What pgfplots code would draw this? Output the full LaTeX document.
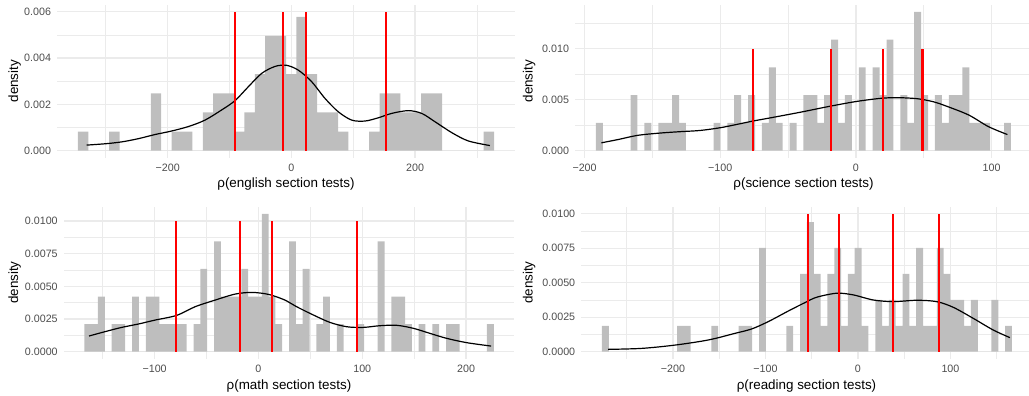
\documentclass[border=0pt]{standalone}
\usepackage{fontspec}
\setmainfont{Liberation Sans}
\usepackage{pgfplots}
\pgfplotsset{compat=1.18}
\definecolor{barc}{HTML}{BEBEBE}
\definecolor{gridc}{HTML}{EBEBEB}
\definecolor{tickc}{HTML}{4D4D4D}
\newcommand{\tickfont}{\fontsize{10.7}{12}\selectfont}
\newcommand{\titlefont}{\fontsize{13.4}{15}\selectfont}
\pgfplotsset{
 panel/.style={
  scale only axis, clip=true,
  axis line style={draw=none},
  major tick length=0pt, minor tick length=0pt,
  grid=both,
  major grid style={line width=1.3pt, draw=gridc},
  minor grid style={line width=0.65pt, draw=gridc},
  scaled ticks=false,
  tick label style={font=\tickfont, text=tickc},
  yticklabel style={anchor=east, inner sep=0pt, xshift=-6pt},
  xticklabel style={anchor=north, inner sep=0pt, yshift=-6pt},
 },
 bars/.style={const plot, fill=barc, draw=none},
 dens/.style={smooth, black, line width=1.2pt},
 seg/.style={red, line width=1.9pt},
}
\begin{document}
\begin{tikzpicture}
\useasboundingbox (0pt,0pt) rectangle (1029pt,396pt);
% ---------------- english ----------------
\begin{axis}[panel, at={(57.2pt,238.4pt)}, anchor=south west,
 width=457.6pt, height=152.7pt,
 xmin=-378.6, xmax=361.2, ymin=-0.0003, ymax=0.0063,
 xtick={-200,0,200}, xticklabels={−200,0,200},
 minor xtick={-300,-100,100,300},
 ytick={0,0.002,0.004,0.006}, yticklabels={0.000,0.002,0.004,0.006},
 minor ytick={0.001,0.003,0.005}]
\addplot[bars] coordinates {(-345.0,0.000826) (-328.2,0) (-311.4,0) (-294.6,0.000826) (-277.7,0) (-260.9,0) (-244.1,0) (-227.3,0.002478) (-210.5,0) (-193.7,0.000826) (-176.9,0.000826) (-160.0,0) (-143.2,0.001652) (-126.4,0.002478) (-109.6,0.002478) (-92.8,0.000826) (-76.0,0.001652) (-59.1,0.003304) (-42.3,0.004956) (-25.5,0.004956) (-8.7,0.003304) (8.1,0.005782) (24.9,0.003304) (41.7,0.001652) (58.6,0.001652) (75.4,0.000826) (92.2,0) (109.0,0) (125.8,0.000826) (142.6,0.002478) (159.5,0.002478) (176.3,0.001652) (193.1,0.001652) (209.9,0.002478) (226.7,0.002478) (243.5,0) (260.3,0) (277.2,0) (294.0,0) (310.8,0.000826) (327.6,0)} \closedcycle;
\addplot[dens] coordinates {(-331,0.00024) (-300,0.0003) (-274,0.00038) (-247,0.00052) (-220,0.0007) (-195,0.00084) (-166.7,0.00104) (-139.7,0.00132) (-112.7,0.00176) (-91.2,0.00216) (-69.7,0.00276) (-48,0.00334) (-26.5,0.00364) (-8,0.00369) (11.2,0.00348) (32.8,0.00298) (54.3,0.00226) (75.8,0.00168) (97.5,0.00132) (119,0.00128) (140.5,0.00142) (162.1,0.00161) (189,0.00173) (210.7,0.00161) (232.2,0.00125) (259.2,0.00078) (286,0.00042) (321,0.00022)};
\addplot[seg] coordinates {(-90.7,0) (-90.7,0.006)};
\addplot[seg] coordinates {(-13.6,0) (-13.6,0.006)};
\addplot[seg] coordinates {(22.9,0) (22.9,0.006)};
\addplot[seg] coordinates {(24.3,0) (24.3,0.006)};
\addplot[seg] coordinates {(152.5,0) (152.5,0.006)};
\end{axis}
% ---------------- science ----------------
\begin{axis}[panel, at={(575.2pt,238.4pt)}, anchor=south west,
 width=456.5pt, height=152.7pt,
 xmin=-206.9, xmax=129.5, ymin=-0.00068, ymax=0.0143,
 xtick={-200,-100,0,100}, xticklabels={−200,−100,0,100},
 minor xtick={-150,-50,50},
 ytick={0,0.005,0.01}, yticklabels={0.000,0.005,0.010},
 minor ytick={0.0025,0.0075,0.0125}]
\addplot[bars] coordinates {(-191.6,0.002725) (-186.5,0) (-181.4,0) (-176.3,0) (-171.2,0) (-166.1,0.00545) (-161.0,0) (-155.9,0.002725) (-150.8,0) (-145.7,0.002725) (-140.6,0.002725) (-135.5,0.00545) (-130.4,0.002725) (-125.3,0) (-120.2,0) (-115.1,0) (-110.0,0) (-104.9,0.002725) (-99.9,0) (-94.8,0.002725) (-89.7,0.00545) (-84.6,0.002725) (-79.5,0.00545) (-74.4,0) (-69.3,0.002725) (-64.2,0.008175) (-59.1,0.002725) (-54.0,0) (-48.9,0.002725) (-43.8,0) (-38.7,0.00545) (-33.6,0.00545) (-28.5,0.002725) (-23.4,0.00545) (-18.3,0.0109) (-13.2,0.002725) (-8.1,0.00545) (-3.0,0) (2.1,0.008175) (7.2,0) (12.3,0.008175) (17.4,0.00545) (22.5,0.0109) (27.6,0) (32.7,0.00545) (37.8,0.002725) (42.9,0.013625) (48.0,0.00545) (53.1,0) (58.2,0.00545) (63.3,0.002725) (68.4,0.00545) (73.4,0.00545) (78.5,0.008175) (83.6,0.002725) (88.7,0.002725) (93.8,0.002725) (98.9,0) (104.0,0) (109.1,0.002725) (114.2,0)} \closedcycle;
\addplot[dens] coordinates {(-187.6,0.00077) (-175,0.0011) (-161,0.0015) (-145,0.00172) (-130,0.00186) (-115,0.00198) (-100,0.00225) (-87.6,0.00258) (-75.3,0.00292) (-63,0.00322) (-41,0.00377) (-20.2,0.00433) (0,0.00482) (18,0.00513) (30,0.0052) (45,0.0051) (57,0.0048) (66,0.0044) (82.9,0.00351) (97.6,0.00236) (111.6,0.00158)};
\addplot[seg] coordinates {(-75.8,0) (-75.8,0.01)};
\addplot[seg] coordinates {(-18.2,0) (-18.2,0.01)};
\addplot[seg] coordinates {(19.9,0) (19.9,0.01)};
\addplot[seg] coordinates {(48.6,0) (48.6,0.01)};
\addplot[seg] coordinates {(49.4,0) (49.4,0.01)};
\end{axis}
% ---------------- math ----------------
\begin{axis}[panel, at={(63.9pt,37.4pt)}, anchor=south west,
 width=450.3pt, height=151.7pt,
 xmin=-187.4, xmax=246.4, ymin=-0.00053, ymax=0.01109,
 xtick={-100,0,100,200}, xticklabels={−100,0,100,200},
 minor xtick={-150,-50,50,150},
 ytick={0,0.0025,0.005,0.0075,0.01}, yticklabels={0.0000,0.0025,0.0050,0.0075,0.0100},
 minor ytick={0.00125,0.00375,0.00625,0.00875}]
\addplot[bars] coordinates {(-167.7,0.002113) (-161.1,0.002113) (-154.6,0.004226) (-148.0,0) (-141.4,0.002113) (-134.8,0.002113) (-128.3,0) (-121.7,0.004226) (-115.1,0) (-108.5,0.004226) (-102.0,0.004226) (-95.4,0.002113) (-88.8,0.002113) (-82.3,0.002113) (-75.7,0.002113) (-69.1,0) (-62.5,0.002113) (-56.0,0.006339) (-49.4,0) (-42.8,0.008452) (-36.2,0.004226) (-29.7,0.004226) (-23.1,0.004226) (-16.5,0.006339) (-10.0,0.004226) (-3.4,0.004226) (3.2,0.010565) (9.8,0.004226) (16.3,0.002113) (22.9,0) (29.5,0.008452) (36.1,0.002113) (42.6,0.006339) (49.2,0) (55.8,0.002113) (62.4,0.004226) (68.9,0) (75.5,0.002113) (82.1,0) (88.6,0) (95.2,0.002113) (101.8,0) (108.4,0) (114.9,0.008452) (121.5,0) (128.1,0.004226) (134.7,0.004226) (141.2,0.002113) (147.8,0) (154.4,0.002113) (160.9,0) (167.5,0.002113) (174.1,0) (180.7,0.002113) (187.2,0.002113) (193.8,0) (200.4,0) (207.0,0) (213.5,0) (220.1,0.002113) (226.7,0)} \closedcycle;
\addplot[dens] coordinates {(-163.2,0.0012) (-147,0.00155) (-131.7,0.00186) (-115,0.00213) (-99.6,0.00242) (-78.7,0.00278) (-61.1,0.00344) (-41.8,0.00395) (-22.5,0.00441) (-6.5,0.00454) (9.6,0.00439) (25,0.00397) (36.9,0.00344) (52.9,0.00281) (69,0.00224) (85.1,0.00191) (101.1,0.00186) (117.1,0.00199) (133.2,0.00202) (149.2,0.00179) (165.3,0.0014) (181.4,0.00102) (200.7,0.00069) (224.1,0.00043)};
\addplot[seg] coordinates {(-79.1,0) (-79.1,0.01)};
\addplot[seg] coordinates {(-17.7,0) (-17.7,0.01)};
\addplot[seg] coordinates {(13.1,0) (13.1,0.01)};
\addplot[seg] coordinates {(95.0,0) (95.0,0.01)};
\end{axis}
% ---------------- reading ----------------
\begin{axis}[panel, at={(581.4pt,37.4pt)}, anchor=south west,
 width=451.1pt, height=151.7pt,
 xmin=-299, xmax=188.7, ymin=-0.0005, ymax=0.0105,
 xtick={-200,-100,0,100}, xticklabels={−200,−100,0,100},
 minor xtick={-250,-150,-50,50,150},
 ytick={0,0.0025,0.005,0.0075,0.01}, yticklabels={0.0000,0.0025,0.0050,0.0075,0.0100},
 minor ytick={0.00125,0.00375,0.00625,0.00875}]
\addplot[bars] coordinates {(-276.8,0.00188) (-269.4,0) (-262.0,0) (-254.6,0) (-247.3,0) (-239.9,0) (-232.5,0) (-225.1,0) (-217.7,0) (-210.3,0) (-203.0,0) (-195.5,0.00188) (-188.2,0.00188) (-180.8,0) (-173.4,0) (-166.0,0) (-158.6,0.00188) (-151.2,0) (-143.8,0) (-136.4,0) (-129.1,0.00188) (-121.7,0.00188) (-114.3,0) (-106.9,0.00752) (-99.5,0) (-92.1,0) (-84.7,0) (-77.4,0.00188) (-70.0,0) (-62.6,0.00564) (-55.2,0.0094) (-47.8,0.00564) (-40.4,0.00188) (-33.0,0.00564) (-25.6,0.00752) (-18.3,0.00188) (-10.9,0.00564) (-3.5,0.00752) (3.9,0.00188) (11.3,0) (18.7,0.00376) (26.1,0.00188) (33.5,0.00376) (40.8,0.00188) (48.2,0.00564) (55.6,0.00188) (63.0,0.00752) (70.4,0.00188) (77.8,0.00188) (85.2,0.00752) (92.6,0.00564) (99.9,0.00376) (107.3,0.00376) (114.7,0.00188) (122.1,0.00376) (129.5,0) (136.9,0) (144.3,0.00376) (151.7,0) (159.0,0.00188) (166.4,0)} \closedcycle;
\addplot[dens] coordinates {(-270,0.00017) (-233.9,0.00024) (-197.8,0.00048) (-161.8,0.00085) (-133,0.00133) (-114.9,0.00165) (-97,0.00218) (-75.3,0.00295) (-57.3,0.00356) (-44.6,0.00395) (-23,0.00424) (-5.1,0.00412) (16.5,0.00375) (38.2,0.00363) (63.4,0.00373) (85.1,0.00363) (103,0.00322) (124.6,0.00242) (146.3,0.00157) (164.3,0.00102)};
\addplot[seg] coordinates {(-54.4,0) (-54.4,0.01)};
\addplot[seg] coordinates {(-20.5,0) (-20.5,0.01)};
\addplot[seg] coordinates {(37.5,0) (37.5,0.01)};
\addplot[seg] coordinates {(87.2,0) (87.2,0.01)};
\end{axis}
% ---------------- titles ----------------
\node[font=\titlefont, rotate=90, anchor=base] at (18.2pt,314.8pt) {density};
\node[font=\titlefont, rotate=90, anchor=base] at (532.7pt,314.8pt) {density};
\node[font=\titlefont, rotate=90, anchor=base] at (18.2pt,113.4pt) {density};
\node[font=\titlefont, rotate=90, anchor=base] at (532.7pt,113.4pt) {density};
\node[font=\titlefont, anchor=base] at (286pt,208.5pt) {ρ(english section tests)};
\node[font=\titlefont, anchor=base] at (803.5pt,208.5pt) {ρ(science section tests)};
\node[font=\titlefont, anchor=base] at (289pt,6.5pt) {ρ(math section tests)};
\node[font=\titlefont, anchor=base] at (806.5pt,6.5pt) {ρ(reading section tests)};
\end{tikzpicture}
\end{document}
